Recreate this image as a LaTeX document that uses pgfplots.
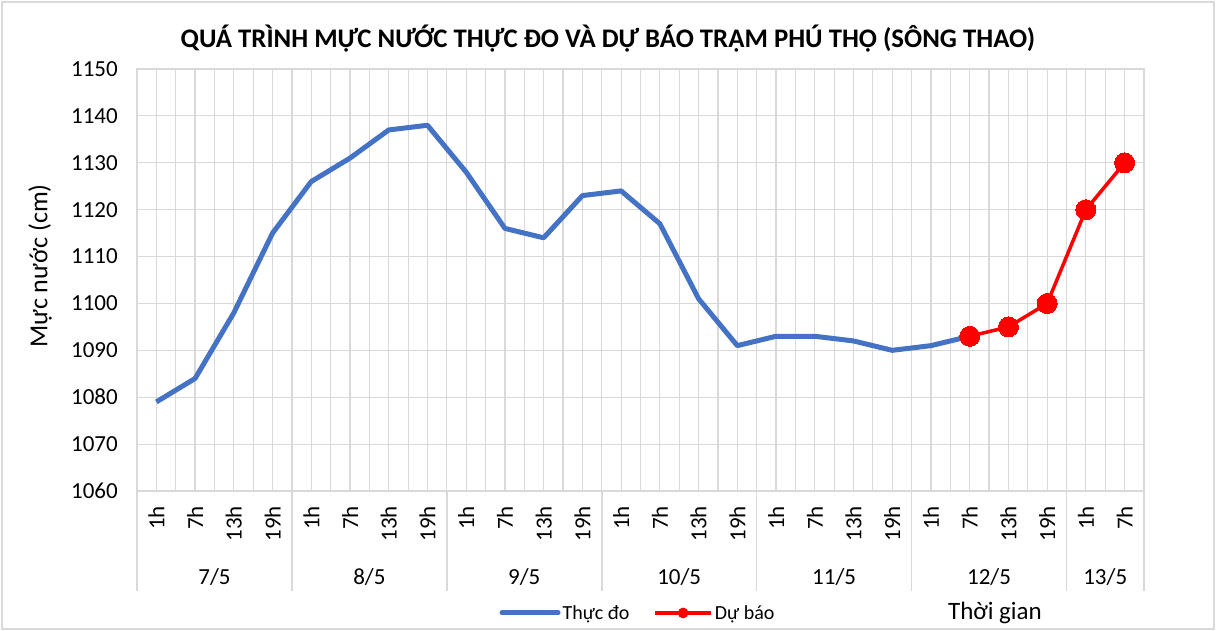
\documentclass[border=0pt]{standalone}
\usepackage{pgfplots}
\pgfplotsset{compat=1.18}
\usepackage{fontspec}
\setmainfont{Carlito}
\definecolor{blueline}{HTML}{4472C4}
\definecolor{gridc}{HTML}{D9D9D9}
\definecolor{redline}{HTML}{FF0000}
\begin{document}
\begin{tikzpicture}[x=1pt,y=1pt]
\path (0,0) rectangle (1217,631);
\draw[gridc, line width=1.5pt] (2,2) rectangle (1214,629);
\begin{axis}[
  at={(137pt,140pt)}, anchor=south west, scale only axis,
  width=1007pt, height=422pt,
  xmin=-0.5, xmax=25.5, ymin=1060, ymax=1150,
  xtick={0,...,25},
  xticklabels={1h,7h,13h,19h,1h,7h,13h,19h,1h,7h,13h,19h,1h,7h,13h,19h,1h,7h,13h,19h,1h,7h,13h,19h,1h,7h},
  minor xtick={-0.5,0.5,...,25.5},
  ytick={1060,1070,...,1150},
  grid=both,
  major grid style={gridc, line width=1.2pt},
  minor grid style={gridc, line width=1.2pt},
  axis line style={gridc, line width=1.5pt},
  major tick length=0pt, minor tick length=0pt,
  tick style={draw=none},
  /pgf/number format/1000 sep={},
  /pgf/number format/assume math mode=true,
  xticklabel style={rotate=90, anchor=east, inner sep=0pt, font=\fontsize{23}{23}\selectfont},
  xticklabel shift=15pt,
  yticklabel style={anchor=east, inner sep=0pt, font=\fontsize{23}{23}\selectfont},
  yticklabel shift=19pt,
  clip=false,
  title={QUÁ TRÌNH MỰC NƯỚC THỰC ĐO VÀ DỰ BÁO TRẠM PHÚ THỌ (SÔNG THAO)},
  title style={at={(axis description cs:0.4677,1.059)}, anchor=center, font=\bfseries\fontsize{26.8}{27}\selectfont},
  xlabel={Thời gian},
  xlabel style={at={(axis description cs:0.852,-0.289)}, anchor=center, font=\fontsize{25}{25}\selectfont},
  ylabel={Mực nước (cm)},
  ylabel style={at={(axis description cs:-0.0963,0.533)}, anchor=center, font=\fontsize{26}{26}\selectfont},
  legend columns=2,
  legend style={at={(axis description cs:0.4975,-0.289)}, anchor=center, draw=none, fill=none,
    font=\fontsize{20}{20}\selectfont,
    /tikz/every even column/.append style={column sep=22pt}},
  legend image code/.code={\draw[mark repeat=2,mark phase=2,#1] plot coordinates {(0pt,0pt) (28pt,0pt) (56pt,0pt)};},
]
\addplot[blueline, line width=5pt, line join=round, forget plot] coordinates {
(0,1079)(1,1084)(2,1098)(3,1115)
(4,1126)(5,1131)(6,1137)(7,1138)
(8,1128)(9,1116)(10,1114)(11,1123)
(12,1124)(13,1117)(14,1101)(15,1091)
(16,1093)(17,1093)(18,1092)(19,1090)
(20,1091)(21,1093)};
\addplot[redline, line width=3.5pt, line join=round, mark=*, mark size=10pt, mark options={fill=redline, draw=redline, line width=0pt}, forget plot] coordinates {
(21,1093)(22,1095)(23,1100)(24,1120)(25,1130)};
\addlegendimage{blueline, line width=5pt, line cap=round}
\addlegendentry{Thực đo}
\addlegendimage{redline, line width=3.5pt, mark=*, mark size=3.5pt, mark options={fill=redline, draw=redline}}
\addlegendentry{Dự báo}
\draw[gridc, line width=1.5pt] (axis cs:-0.5,1060) -- (axis cs:-0.5,1038.67);
\draw[gridc, line width=1.5pt] (axis cs:3.5,1060) -- (axis cs:3.5,1038.67);
\draw[gridc, line width=1.5pt] (axis cs:7.5,1060) -- (axis cs:7.5,1038.67);
\draw[gridc, line width=1.5pt] (axis cs:11.5,1060) -- (axis cs:11.5,1038.67);
\draw[gridc, line width=1.5pt] (axis cs:15.5,1060) -- (axis cs:15.5,1038.67);
\draw[gridc, line width=1.5pt] (axis cs:19.5,1060) -- (axis cs:19.5,1038.67);
\draw[gridc, line width=1.5pt] (axis cs:23.5,1060) -- (axis cs:23.5,1038.67);
\draw[gridc, line width=1.5pt] (axis cs:25.5,1060) -- (axis cs:25.5,1038.67);
\node[font=\fontsize{23}{23}\selectfont] at (axis cs:1.5,1041.66) {7/5};
\node[font=\fontsize{23}{23}\selectfont] at (axis cs:5.5,1041.66) {8/5};
\node[font=\fontsize{23}{23}\selectfont] at (axis cs:9.5,1041.66) {9/5};
\node[font=\fontsize{23}{23}\selectfont] at (axis cs:13.5,1041.66) {10/5};
\node[font=\fontsize{23}{23}\selectfont] at (axis cs:17.5,1041.66) {11/5};
\node[font=\fontsize{23}{23}\selectfont] at (axis cs:21.5,1041.66) {12/5};
\node[font=\fontsize{23}{23}\selectfont] at (axis cs:24.5,1041.66) {13/5};
\end{axis}
\end{tikzpicture}
\end{document}
